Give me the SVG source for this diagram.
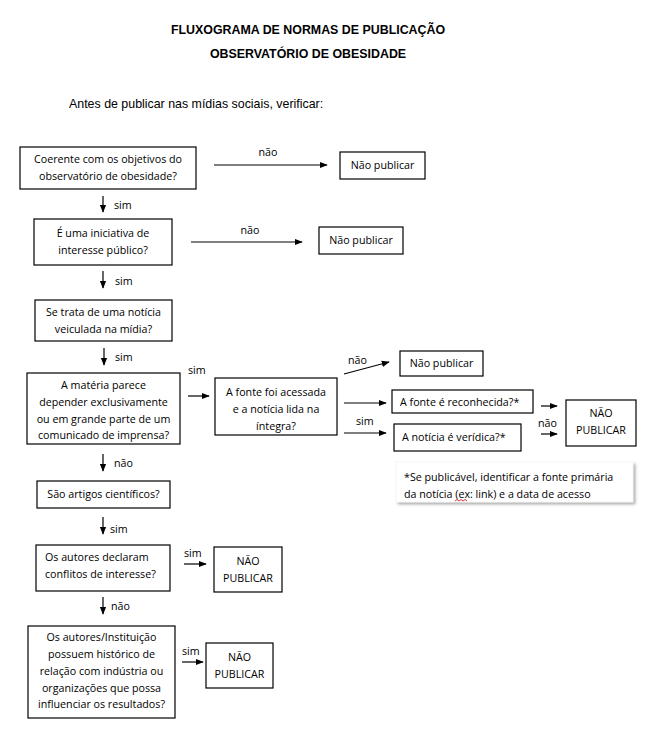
<svg xmlns="http://www.w3.org/2000/svg" width="650" height="740" viewBox="0 0 650 740">
<style>
.b{fill:#fff;stroke:#000;stroke-width:1.2}
.t{font-family:"Open Sans","Liberation Sans",sans-serif;font-size:10.7px;fill:#000}
.c{text-anchor:middle}
.h{font-family:"Liberation Sans",Arial,sans-serif;font-weight:bold;font-size:12.4px;text-anchor:middle}
.l{stroke:#000;stroke-width:1.2;fill:none;marker-end:url(#a)}
</style>
<defs>
<marker id="a" viewBox="0 0 10 10" refX="9" refY="5" markerWidth="8" markerHeight="8" markerUnits="userSpaceOnUse" orient="auto"><path d="M0,1 L10,5 L0,9 Z" fill="#000"/></marker>
<filter id="s" x="-5%" y="-20%" width="115%" height="150%"><feDropShadow dx="2" dy="2" stdDeviation="1.5" flood-color="#000" flood-opacity="0.35"/></filter>
</defs>
<rect width="650" height="740" fill="#fff"/>
<text class="h" x="308" y="34">FLUXOGRAMA DE NORMAS DE PUBLICAÇÃO</text>
<text class="h" x="308" y="58">OBSERVATÓRIO DE OBESIDADE</text>
<text x="69" y="108" style="font-family:'Liberation Sans',Arial,sans-serif;font-size:12.4px">Antes de publicar nas mídias sociais, verificar:</text>

<g id="connectors">
<line class="l" x1="214" y1="165" x2="327" y2="165"/>
<text class="t c" x="268" y="156">não</text>
<line class="l" x1="103" y1="196" x2="103" y2="212"/>
<text class="t" x="114" y="209">sim</text>
<line class="l" x1="191" y1="242" x2="302" y2="242"/>
<text class="t c" x="250" y="234">não</text>
<line class="l" x1="103" y1="271" x2="103" y2="288"/>
<text class="t" x="115" y="285">sim</text>
<line class="l" x1="104" y1="348" x2="104" y2="365"/>
<text class="t" x="115" y="361">sim</text>
<text class="t" x="188" y="374">sim</text>
<line class="l" x1="188" y1="396" x2="209" y2="396"/>
<line class="l" x1="344" y1="374" x2="389" y2="362"/>
<text class="t" x="348" y="364">não</text>
<line class="l" x1="344" y1="403" x2="386" y2="403"/>
<line class="l" x1="344" y1="433" x2="386" y2="433"/>
<text class="t" x="356" y="425">sim</text>
<line class="l" x1="541" y1="406" x2="557" y2="406"/>
<line class="l" x1="541" y1="434" x2="557" y2="434"/>
<text class="t" x="538" y="427">não</text>
<line class="l" x1="103" y1="454" x2="103" y2="471"/>
<text class="t" x="114" y="467">não</text>
<line class="l" x1="103" y1="517" x2="103" y2="534"/>
<text class="t" x="110" y="533">sim</text>
<text class="t" x="184" y="557">sim</text>
<line class="l" x1="184" y1="564" x2="206" y2="564"/>
<line class="l" x1="103" y1="597" x2="103" y2="614"/>
<text class="t" x="111" y="610">não</text>
<text class="t" x="182" y="655">sim</text>
<line class="l" x1="182" y1="662" x2="203" y2="662"/>
</g>

<g id="n1"><rect class="b" x="20" y="147" width="176" height="42"/>
<text class="t c" x="108" y="163">Coerente com os objetivos do</text>
<text class="t c" x="108" y="180">observatório de obesidade?</text></g>
<g id="n1no"><rect class="b" x="340" y="152" width="85" height="27"/>
<text class="t c" x="382.5" y="169">Não publicar</text></g>

<g id="n2"><rect class="b" x="34" y="219" width="138" height="46"/>
<text class="t c" x="103" y="237">É uma iniciativa de</text>
<text class="t c" x="103" y="254">interesse público?</text></g>
<g id="n2no"><rect class="b" x="319" y="227" width="84" height="27"/>
<text class="t c" x="361" y="244">Não publicar</text></g>

<g id="n3"><rect class="b" x="35" y="300" width="137" height="41"/>
<text class="t c" x="103.5" y="316">Se trata de uma notícia</text>
<text class="t c" x="103.5" y="333">veiculada na mídia?</text></g>

<g id="n4"><rect class="b" x="27" y="373" width="153" height="71"/>
<text class="t c" x="103.5" y="389">A matéria parece</text>
<text class="t c" x="103.5" y="406">depender exclusivamente</text>
<text class="t c" x="103.5" y="423">ou em grande parte de um</text>
<text class="t c" x="103.5" y="439">comunicado de imprensa?</text></g>

<g id="n5"><rect class="b" x="215" y="378" width="122" height="57"/>
<text class="t c" x="276" y="396">A fonte foi acessada</text>
<text class="t c" x="276" y="413">e a notícia lida na</text>
<text class="t c" x="276" y="430">íntegra?</text></g>

<g id="n5no"><rect class="b" x="400" y="351" width="83" height="25"/>
<text class="t c" x="441.5" y="367">Não publicar</text></g>

<g id="n6"><rect class="b" x="392" y="390" width="141" height="23"/>
<text class="t" x="400" y="405.5">A fonte é reconhecida?*</text></g>

<g id="n7"><rect class="b" x="394" y="424" width="127" height="27"/>
<text class="t" x="402" y="441">A notícia é verídica?*</text></g>

<g id="n7no"><rect class="b" x="566" y="400" width="70" height="46"/>
<text class="t c" x="601" y="417">NÃO</text>
<text class="t c" x="601" y="434">PUBLICAR</text></g>

<g id="note"><rect x="396" y="462" width="237" height="40" fill="#fff" filter="url(#s)" stroke="#eee" stroke-width="0.5"/>
<text class="t" x="404" y="481">*Se publicável,  identificar a fonte primária</text>
<text class="t" x="404" y="498">da notícia (ex: link) e a data de acesso</text>
<path d="M455,501 l2,-1.5 l2,1.5 l2,-1.5 l2,1.5 l2,-1.5 l2,1.5" stroke="#d00" stroke-width="0.8" fill="none"/></g>

<g id="n8"><rect class="b" x="37" y="481" width="133" height="27"/>
<text class="t c" x="103.5" y="498">São artigos científicos?</text></g>

<g id="n9"><rect class="b" x="36" y="545" width="134" height="46"/>
<text class="t" x="45" y="561">Os autores declaram</text>
<text class="t" x="45" y="578">conflitos de interesse?</text></g>
<g id="n9no"><rect class="b" x="214" y="547" width="68" height="45"/>
<text class="t c" x="248" y="565">NÃO</text>
<text class="t c" x="248" y="582">PUBLICAR</text></g>

<g id="n10"><rect class="b" x="28" y="626" width="147" height="92"/>
<text class="t c" x="101.5" y="641">Os autores/Instituição</text>
<text class="t c" x="101.5" y="658">possuem histórico de</text>
<text class="t c" x="101.5" y="675">relação com indústria ou</text>
<text class="t c" x="101.5" y="692">organizações que possa</text>
<text class="t c" x="101.5" y="708">influenciar os resultados?</text></g>
<g id="n10no"><rect class="b" x="206" y="643" width="67" height="45"/>
<text class="t c" x="239.5" y="661">NÃO</text>
<text class="t c" x="239.5" y="678">PUBLICAR</text></g>
</svg>
